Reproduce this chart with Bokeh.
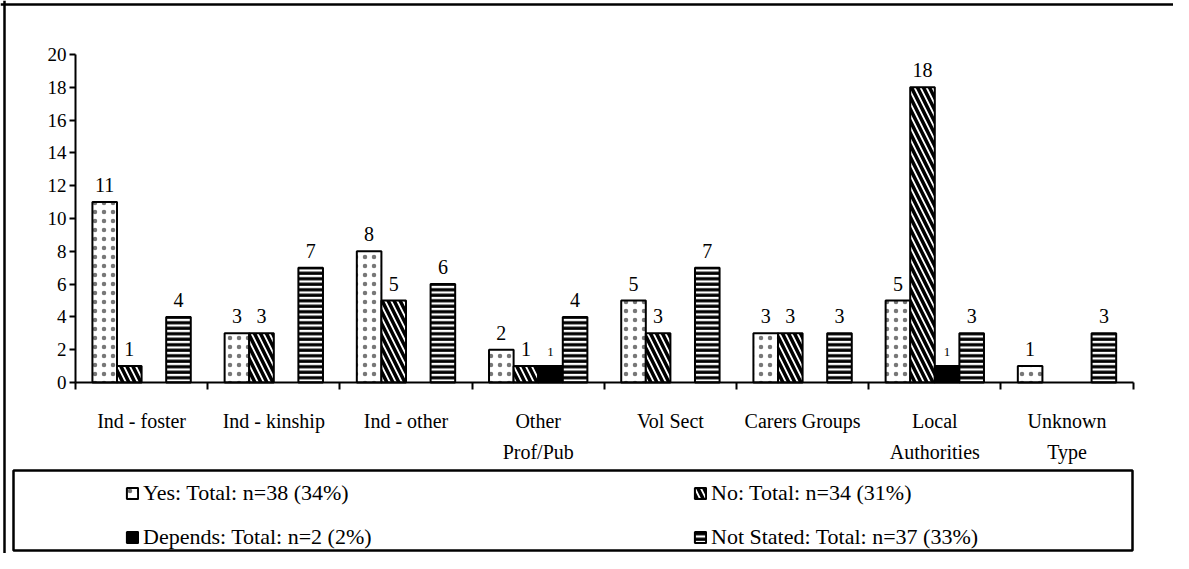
from bokeh.plotting import figure
from bokeh.models import (ColumnDataSource, Range1d, FixedTicker, Legend, LegendItem,
                          BoxAnnotation, Span)
from bokeh.core.properties import value
from bokeh.embed import file_html
from bokeh.resources import INLINE

# ---- data ----
categories = ["Ind - foster", "Ind - kinship", "Ind - other", "Other\nProf/Pub",
              "Vol Sect", "Carers Groups", "Local\nAuthorities", "Unknown\nType"]
yes_vals = [11, 3, 8, 2, 5, 3, 5, 1]
no_vals = [1, 3, 5, 1, 3, 3, 18, 0]
depends_vals = [0, 0, 0, 1, 0, 0, 1, 0]
notstated_vals = [4, 7, 6, 4, 7, 3, 3, 3]
series_names = ["Yes: Total: n=38 (34%)", "No: Total: n=34 (31%)",
                "Depends: Total: n=2 (2%)", "Not Stated: Total: n=37 (33%)"]
y_ticks = list(range(0, 21, 2))
Y_MAX = 20

SERIF = "Liberation Serif"

# ---- layout (canvas pixels) ----
W, H = 1173, 553
AX_LEFT, AX_RIGHT = 75.0, 1132.6      # canvas x of the category axis ends
AX_TOP, AX_BOTTOM = 54.0, 382.0       # canvas y of y=Y_MAX and y=0
ncat = len(categories)
pxu_x = (AX_RIGHT - AX_LEFT) / ncat
pxu_y = (AX_BOTTOM - AX_TOP) / Y_MAX
x_range = Range1d(-AX_LEFT / pxu_x, ncat + (W - AX_RIGHT) / pxu_x)
y_range = Range1d(-(H - AX_BOTTOM) / pxu_y, Y_MAX + AX_TOP / pxu_y)

p = figure(width=W, height=H, output_backend="svg", toolbar_location=None,
           x_range=x_range, y_range=y_range,
           min_border_left=0, min_border_right=0, min_border_top=0,
           min_border_bottom=0)
p.outline_line_color = None
p.xgrid.visible = False
p.ygrid.visible = False
p.background_fill_color = "white"
p.border_fill_color = "white"

bw = 0.186
offsets = [-1.5 * bw, -0.5 * bw, 0.5 * bw, 1.5 * bw]
styles = [
    dict(fill_color="white", hatch_pattern="dot", hatch_color="#777777", hatch_scale=9, hatch_weight=0.8),
    dict(fill_color="white", hatch_pattern="left_diagonal_line", hatch_color="black", hatch_scale=12, hatch_weight=3.5),
    dict(fill_color="black"),
    dict(fill_color="white", hatch_pattern="horizontal_line", hatch_color="black", hatch_scale=5.5, hatch_weight=3.2),
]
all_vals = [yes_vals, no_vals, depends_vals, notstated_vals]

renderers = []
for k, vals in enumerate(all_vals):
    xs = [i + 0.5 + offsets[k] for i, v in enumerate(vals) if v > 0]
    ys = [v for v in vals if v > 0]
    src = ColumnDataSource(dict(x=xs, top=ys, label=[str(v) for v in ys]))
    r = p.vbar(x="x", top="top", bottom=0, width=bw, source=src,
               line_color="black", line_width=2, **styles[k])
    renderers.append(r)
    p.text(x="x", y="top", text="label", source=src,
           text_font=value(SERIF), text_font_size="13px" if k == 2 else "20px",
           text_align="center", text_baseline="bottom", y_offset=-10,
           text_color="black")

# y axis (drawn inside the frame at x = 0)
ya = p.yaxis[0]
ya.fixed_location = 0
ya.bounds = (0, Y_MAX)
ya.ticker = FixedTicker(ticks=y_ticks)
ya.axis_line_width = 2
ya.major_tick_line_width = 2
ya.major_tick_out = 6
ya.major_tick_in = 0
ya.minor_tick_out = 0
ya.minor_tick_in = 0
ya.major_label_text_font = SERIF
ya.major_label_text_font_size = "19px"
ya.major_label_text_color = "black"
ya.major_label_standoff = 3

# x axis (drawn inside the frame at y = 0)
xa = p.xaxis[0]
xa.fixed_location = 0
xa.bounds = (0, ncat)
centers = [i + 0.5 for i in range(ncat)]
xa.ticker = FixedTicker(ticks=centers, minor_ticks=list(range(ncat + 1)))
xa.major_label_overrides = {c: lab for c, lab in zip(centers, categories)}
xa.axis_line_width = 2
xa.major_tick_out = 0
xa.major_tick_in = 0
xa.minor_tick_out = 7
xa.minor_tick_in = 0
xa.minor_tick_line_width = 2
xa.major_label_text_font = SERIF
xa.major_label_text_font_size = "20px"
xa.major_label_text_color = "black"
xa.major_label_text_line_height = 1.45
xa.major_label_standoff = 20

# legend
items = [LegendItem(label=n, renderers=[r]) for n, r in zip(series_names, renderers)]
legend = Legend(items=items, orientation="horizontal", ncols=2,
                label_text_font=SERIF, label_text_font_size="22px",
                label_text_color="black", glyph_width=14, glyph_height=14,
                label_standoff=4, label_width=532, spacing=18, padding=0, margin=0,
                border_line_alpha=0, background_fill_alpha=0,
                location=(125, 3))
p.add_layout(legend, "center")

# legend box
p.add_layout(BoxAnnotation(left=13, right=1132, top=470, bottom=550,
                           left_units="canvas", right_units="canvas",
                           top_units="canvas", bottom_units="canvas",
                           fill_alpha=0, line_color="black", line_alpha=1.0,
                           line_width=2.5, level="overlay"))
# outer frame: left and top edges, 4px inside the canvas
p.add_layout(Span(location=x_range.start + 4 / pxu_x, dimension="height",
                  line_color="black", line_width=2.5))
p.add_layout(Span(location=y_range.end - 4 / pxu_y, dimension="width",
                  line_color="black", line_width=2.5))

open("out.html", "w").write(file_html(p, INLINE))
